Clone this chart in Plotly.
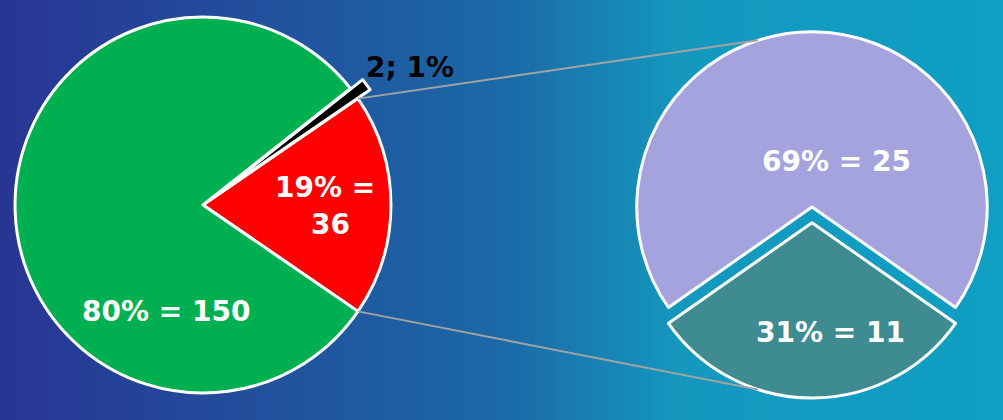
import numpy as np
import plotly.graph_objects as go

# ---- data ----
main_labels = ["Red", "Black", "Green"]
main_values = [36, 2, 150]
sub_labels = ["Lavender", "Teal"]
sub_values = [25, 11]

# ---- style ----
W, H = 1003, 420
main_colors = ["#ff0000", "#000000", "#00b050"]
sub_colors = ["#a5a3de", "#3e8c91"]
main_pull = [0, 0.08, 0]
sub_pull = [0, 0.09]
FONT = "DejaVu Sans"
FSIZE = 28

# pie geometry in pixels (center, outer box half-size)
L_cx, L_cy, L_R = 203, 205, 203
R_cx, R_cy, R_R = 812, 207, 191


def px2paper(x, y):
    return x / W, 1 - y / H


def domain(cx, cy, R):
    x0, y1 = px2paper(cx - R, cy - R)
    x1, y0 = px2paper(cx + R, cy + R)
    return dict(x=[max(0, x0), min(1, x1)], y=[max(0, y0), min(1, y1)])


main_total = sum(main_values)
sub_total = sum(sub_values)
red_half = main_values[0] / main_total * 360 / 2
teal_half = sub_values[1] / sub_total * 360 / 2

fig = go.Figure()

# gradient background
fig.add_trace(go.Heatmap(
    z=[np.linspace(0, 1, 300)],
    colorscale=[[0, "#283593"], [0.5, "#1b69a6"], [0.68, "#1498be"], [1, "#0e9fc3"]],
    showscale=False, hoverinfo="skip", zsmooth="best",
))

# rotation: first slice lies clockwise of the rotation point (counterclockwise mode)
fig.add_trace(go.Pie(
    labels=main_labels, values=main_values, sort=False,
    direction="counterclockwise", rotation=90 - red_half,
    marker=dict(colors=main_colors, line=dict(color="white", width=3)),
    pull=main_pull, textinfo="none", hoverinfo="label+value+percent",
    domain=domain(L_cx, L_cy, L_R), showlegend=False,
))

fig.add_trace(go.Pie(
    labels=sub_labels, values=sub_values, sort=False,
    direction="counterclockwise", rotation=-180 + teal_half,
    marker=dict(colors=sub_colors, line=dict(color="white", width=3)),
    pull=sub_pull, textinfo="none", hoverinfo="label+value+percent",
    domain=domain(R_cx, R_cy, R_R), showlegend=False,
))

# connector lines computed from the pie geometry
rL = L_R / (1 + max(main_pull))
rR = R_R / (1 + max(sub_pull))
a = np.radians(red_half)
sx_u, sy_u = L_cx + rL * np.cos(a), L_cy - rL * np.sin(a)
sx_d, sy_d = L_cx + rL * np.cos(a), L_cy + rL * np.sin(a)
b = np.radians(108)
ex_u, ey_u = R_cx + rR * np.cos(b), R_cy - rR * np.sin(b)
tcy = R_cy + sub_pull[1] * rR
ex_d, ey_d = R_cx + rR * np.cos(b), tcy + rR * np.sin(b)

shapes = []
for (x0, y0, x1, y1) in [(sx_u, sy_u, ex_u, ey_u), (sx_d, sy_d, ex_d, ey_d)]:
    p0 = px2paper(x0, y0)
    p1 = px2paper(x1, y1)
    shapes.append(dict(type="line", xref="paper", yref="paper",
                       x0=p0[0], y0=p0[1], x1=p1[0], y1=p1[1],
                       line=dict(color="#a3a3a3", width=2), layer="above"))


def pct(v, t):
    return int(round(v / t * 100))


labels_text = [
    (f"{pct(main_values[2], main_total)}% = {main_values[2]}", 166, 311, "white"),
    (f"{pct(main_values[0], main_total)}% =", 325, 188, "white"),
    (f"{main_values[0]}", 330, 224, "white"),
    (f"{main_values[1]}; {pct(main_values[1], main_total)}%", 410, 68, "black"),
    (f"{pct(sub_values[0], sub_total)}% = {sub_values[0]}", 836, 162, "white"),
    (f"{pct(sub_values[1], sub_total)}% = {sub_values[1]}", 830, 332, "white"),
]
annotations = []
for t, x, y, c in labels_text:
    px, py = px2paper(x, y)
    annotations.append(dict(text=t, x=px, y=py, xref="paper", yref="paper",
                            showarrow=False, xanchor="center", yanchor="middle",
                            font=dict(family=FONT, size=FSIZE, color=c, weight="bold")))

fig.update_layout(
    width=W, height=H, margin=dict(l=0, r=0, t=0, b=0),
    paper_bgcolor="#1b69a6", plot_bgcolor="rgba(0,0,0,0)",
    xaxis=dict(visible=False, fixedrange=True),
    yaxis=dict(visible=False, fixedrange=True),
    shapes=shapes, annotations=annotations,
)

fig.write_html(
    "out.html",
    config={"displayModeBar": False},
    post_script="document.body.style.margin='0px';document.body.style.overflow='hidden';",
)
